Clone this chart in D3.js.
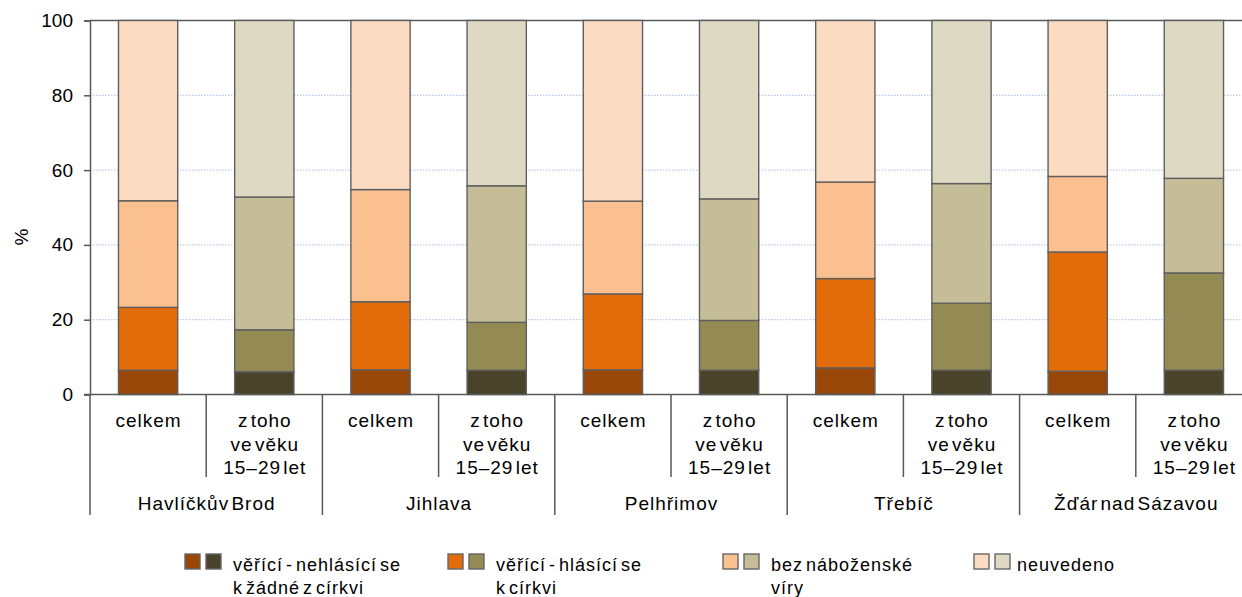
<!DOCTYPE html>
<html><head><meta charset="utf-8">
<script src="https://cdn.jsdelivr.net/npm/d3@7"></script>
<style>body{margin:0;background:#fff}svg{display:block;font-family:"Liberation Sans",Arial,sans-serif}</style>
</head><body><svg id="c" width="1242" height="597"></svg>
<script>
const groups = ["Havlíčkův Brod","Jihlava","Pelhřimov","Třebíč","Žďár nad Sázavou"];
const subLabels = [["celkem"],["z toho","ve věku","15–29 let"]];
const seriesNames = ["věřící - nehlásící se k žádné z církvi","věřící - hlásící se k církvi","bez náboženské víry","neuvedeno"];
const legendLines = [["věřící - nehlásící se","k žádné z církvi"],["věřící - hlásící se","k církvi"],["bez náboženské","víry"],["neuvedeno"]];
// segment values per bar (order: group × [celkem, 15–29])
const nehlasici = [6.5, 6.1, 6.6, 6.5, 6.6, 6.5, 7.1, 6.5, 6.2, 6.5];
const hlasici   = [16.8, 11.2, 18.2, 12.8, 20.3, 13.3, 23.9, 17.9, 31.9, 26.0];
const bezViry   = [28.5, 35.5, 30.0, 36.5, 24.8, 32.5, 25.8, 32.0, 20.2, 25.3];
const neuvedeno = [48.2, 47.2, 45.2, 44.2, 48.3, 47.7, 43.2, 43.6, 41.7, 42.2];
const yTicks = [0,20,40,60,80,100];
const colorsAll   = ["#994708","#e36c0a","#fac090","#fbdcc2"];
const colorsYoung = ["#4a432b","#948a54","#c4bd97","#ddd9c3"];

(function(){
const svg = d3.select("#c");
const mL = 90, mR = 1252, mT = 20.5, mB = 394.5;
const FS = 19;
const keys = [];
groups.forEach((g,gi)=>[0,1].forEach(s=>keys.push(gi*2+s)));
const x = d3.scaleBand().domain(keys).range([mL,mR]).paddingInner(0.49).paddingOuter(0.245);
const y = d3.scaleLinear().domain([0,100]).range([mB,mT]);
const step = x.step();

// gridlines
svg.append("g").selectAll("line").data(yTicks.filter(t=>t>0&&t<100)).join("line")
  .attr("x1",mL).attr("x2",1242).attr("y1",d=>y(d)).attr("y2",d=>y(d))
  .attr("stroke","#a9bfe6").attr("stroke-width",1).attr("stroke-dasharray","1.5,1.5");
// top border
svg.append("line").attr("x1",mL).attr("x2",1242).attr("y1",y(100)).attr("y2",y(100))
  .attr("stroke","#595959").attr("stroke-width",1.5);

// bars
const data = keys.map(i=>{
  const vals=[nehlasici[i],hlasici[i],bezViry[i],neuvedeno[i]];
  let c=0; return vals.map((v,k)=>{const s={i,k,y0:c,y1:c+v}; c+=v; return s;});
}).flat();
svg.append("g").selectAll("rect").data(data).join("rect")
  .attr("x",d=>x(d.i)).attr("width",x.bandwidth())
  .attr("y",d=>y(Math.min(100,d.y1))).attr("height",d=>y(d.y0)-y(Math.min(100,d.y1)))
  .attr("fill",d=>(d.i%2===0?colorsAll:colorsYoung)[d.k])
  .attr("stroke","#5f5f5f").attr("stroke-width",1.4);

// y axis
const ya = svg.append("g").attr("transform",`translate(${mL},0)`)
  .call(d3.axisLeft(y).tickValues(yTicks).tickSize(6).tickPadding(11));
ya.select(".domain").attr("stroke","#595959").attr("stroke-width",1.5);
ya.selectAll(".tick line").attr("stroke","#595959").attr("stroke-width",1.5);
ya.selectAll(".tick text").attr("font-size",FS).attr("fill","#000").attr("font-family","Liberation Sans, Arial, sans-serif");
svg.append("text").attr("transform","translate(28,237) rotate(-90)").attr("text-anchor","middle")
  .attr("font-size",FS).text("%");

// x axis line
svg.append("line").attr("x1",mL-6).attr("x2",1242).attr("y1",mB).attr("y2",mB)
  .attr("stroke","#595959").attr("stroke-width",1.5);
// dividers
const divs = d3.range(0,11);
svg.append("g").selectAll("line").data(divs).join("line")
  .attr("x1",d=>mL+d*step).attr("x2",d=>mL+d*step)
  .attr("y1",mB).attr("y2",d=>d%2===0?515:477)
  .attr("stroke","#595959").attr("stroke-width",1.5);
// sub labels
const subG = svg.append("g").attr("font-size",FS).attr("text-anchor","middle")
  .attr("letter-spacing",1).attr("word-spacing",-4);
keys.forEach(i=>{
  const lines = subLabels[i%2];
  lines.forEach((t,li)=>subG.append("text").attr("x",x(i)+x.bandwidth()/2+0.5).attr("y",427+li*23.5).text(t));
});
// group labels
svg.append("g").attr("font-size",FS).attr("text-anchor","middle").attr("letter-spacing",1).attr("word-spacing",-4)
  .selectAll("text").data(groups).join("text")
  .attr("x",(d,gi)=>mL+(gi*2+1)*step+0.5).attr("y",510).text(d=>d);

// legend
const legX = [185,448,723,974];
const lg = svg.append("g");
seriesNames.forEach((n,k)=>{
  const g = lg.append("g").attr("transform",`translate(${legX[k]},554)`);
  g.append("rect").attr("x",0).attr("y",0).attr("width",15).attr("height",15).attr("fill",colorsAll[k]).attr("stroke","#666").attr("stroke-width",1.4);
  g.append("rect").attr("x",21).attr("y",0).attr("width",15).attr("height",15).attr("fill",colorsYoung[k]).attr("stroke","#666").attr("stroke-width",1.4);
  legendLines[k].forEach((t,li)=>g.append("text").attr("x",k===3?43:48).attr("y",17+li*22.5)
    .attr("font-size",18).attr("letter-spacing",1).attr("word-spacing",-3).text(t));
});
})();
</script></body></html>
